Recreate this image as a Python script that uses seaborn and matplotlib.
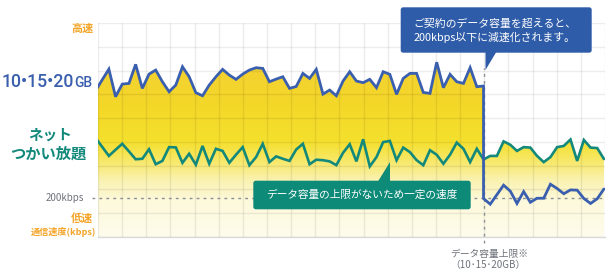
import numpy as np
import pandas as pd
import matplotlib
matplotlib.use("Agg")
import matplotlib.pyplot as plt
import matplotlib.transforms as mtransforms
from matplotlib.patches import FancyBboxPatch, Polygon
from matplotlib.colors import LinearSegmentedColormap
import seaborn as sns

# ---------------- data (speed index on a 0-90 scale, x = sample index) ----------------
blue_before = [61.5, 66.1, 70.6, 59.0, 64.3, 64.6, 72.6, 62.5, 68.5, 70.2,
               65.3, 61.1, 63.9, 71.6, 67.4, 60.7, 59.4, 63.9, 67.4, 70.5,
               68.1, 66.3, 68.5, 70.2, 71.2, 70.9, 65.3, 66.4, 67.4, 62.5,
               63.3, 68.8, 66.7, 70.5, 60.1, 61.8, 59.4, 65.6, 69.5, 65.6,
               64.9, 66.3, 62.8, 69.5, 68.4, 60.0, 66.7, 68.8, 68.8, 60.8,
               60.4, 73.5, 62.8, 68.4, 65.3, 64.6, 71.2, 63.2, 63.5]
blue_after = [16.2, 13.8, 17.8, 21.8, 19.3, 14.1, 19.1, 14.6, 16.3, 16.3,
              22.2, 20.4, 18.2, 19.8, 19.7, 16.2, 14.1, 16.1, 20.2]
green = [41.7, 37.9, 34.1, 36.7, 39.2, 36.0, 32.7, 32.9, 36.9, 30.6,
         32.0, 37.8, 37.7, 31.2, 35.0, 30.4, 38.3, 30.8, 37.1, 36.2,
         31.2, 34.6, 37.8, 30.2, 33.6, 39.2, 31.5, 33.9, 32.9, 32.0,
         36.8, 39.2, 30.6, 32.5, 32.3, 31.8, 30.2, 35.4, 39.0, 31.8,
         41.1, 29.7, 33.6, 39.9, 40.4, 32.3, 37.6, 35.7, 32.3, 30.2,
         36.5, 34.6, 30.8, 34.6, 39.7, 37.1, 31.5, 37.1, 32.6, 34.1,
         34.1, 40.2, 38.8, 36.2, 37.8, 37.6, 34.1, 31.5, 33.6, 37.8,
         38.3, 41.0, 32.0, 40.8, 37.6, 37.4, 32.8]
kbps200 = 16.5

label_high = "高速"
label_low = "低速"
label_unit = "通信速度(kbps)"
label_cap_num = "10•15•20"
label_cap_unit = "GB"
label_unl_1 = "ネット"
label_unl_2 = "つかい放題"
label_200 = "200kbps"
callout_1 = ["ご契約のデータ容量を超えると、", "200kbps以下に減速化されます。"]
callout_2 = "データ容量の上限がないため一定の速度"
bottom_1 = "データ容量上限※"
bottom_2 = "（10･15･20GB）"

# ---------------- style ----------------
BLUE = "#3a5fae"
GREEN = "#13897b"
BOX_BLUE = "#2f5ca9"
BOX_GREEN = "#0e8a78"
ORANGE = "#f4a52a"
GRAY = "#6e737a"
DASH = "#8a8f96"

sns.set_theme(style="white")
plt.rcParams['font.family'] = ['Noto Sans CJK JP', 'DejaVu Sans']

W, H = 610, 273
fig = plt.figure(figsize=(W / 100, H / 100), dpi=100)
ax = fig.add_axes([98 / W, 1 - 237 / H, (605 - 98) / W, (237 - 23) / H])
pix = mtransforms.Affine2D().scale(1, -1).translate(0, H)  # image-pixel coords

k_before = np.arange(len(blue_before))
cut = int(k_before[-1])
k_after = np.arange(cut, cut + len(blue_after))
k_green = np.arange(len(green))

blue_df = pd.DataFrame({"k": np.concatenate([k_before, k_after]),
                        "v": blue_before + blue_after})
green_df = pd.DataFrame({"k": k_green, "v": green})

x0 = (98 - 95.5) / 6.69
x1 = (605 - 95.5) / 6.69

# gradient fill below the upper envelope
env_x = np.concatenate([k_before, k_after])
env_y = np.array(blue_before + green[cut:])
poly = ax.fill_between(env_x, env_y, 0, facecolor="none", edgecolor="none", lw=0)
cmap = LinearSegmentedColormap.from_list("yel", [
    (0.0, "#fefcec"), (15 / 90, "#fdf9dc"), (24 / 90, "#faf2b0"),
    (30 / 90, "#f8ea78"), (40 / 90, "#f5e02e"), (55 / 90, "#f4d828"),
    (75 / 90, "#f3cf33"), (1.0, "#f2cb36")])
grad = np.linspace(0, 1, 256).reshape(-1, 1)
im = ax.imshow(grad, extent=[x0, x1, 0, 90], origin="lower", aspect="auto",
               cmap=cmap, zorder=1, interpolation="bilinear")
im.set_clip_path(poly.get_paths()[0], transform=ax.transData)

sns.lineplot(data=green_df, x="k", y="v", estimator=None, sort=False, color=GREEN,
             lw=1.9, ax=ax, zorder=5, solid_joinstyle="miter")
sns.lineplot(data=blue_df, x="k", y="v", estimator=None, sort=False, color=BLUE,
             lw=2.0, ax=ax, zorder=6, solid_joinstyle="miter")

ax.set_xlim(x0, x1)
ax.set_ylim(0, 90)
ax.set_xticks(np.linspace(x0, x1, 22))
ax.set_yticks(np.arange(0, 91, 10))
ax.tick_params(length=0, labelbottom=False, labelleft=False)
ax.set_xlabel("")
ax.set_ylabel("")
ax.grid(True, color="black", alpha=0.07, lw=1)
ax.set_axisbelow(False)
for s in ax.spines.values():
    s.set_visible(False)
ax.spines["bottom"].set_visible(True)
ax.spines["bottom"].set_color("#dadada")
ax.spines["bottom"].set_linewidth(1)

# reference lines
ax.axhline(kbps200, xmin=-6 / 507, xmax=1, color=DASH, lw=1.0, ls=(0, (2, 3)),
           zorder=4, clip_on=False)
ax.axvline(cut, ymin=(237 - 243) / 214, ymax=(237 - 68) / 214, color=DASH, lw=1.0,
           ls=(0, (2, 3)), zorder=4, clip_on=False)

# callouts
ax.add_patch(FancyBboxPatch((400.7, 7.3), 191, 45.4, boxstyle="round,pad=0,rounding_size=2.5",
                            transform=pix, facecolor=BOX_BLUE, edgecolor="none",
                            clip_on=False, zorder=10))
ax.add_patch(Polygon([(485.5, 50), (497.5, 50), (485.5, 70)], closed=True, transform=pix,
                     facecolor=BOX_BLUE, edgecolor="none", clip_on=False, zorder=10))
ax.text(495, 23.5, callout_1[0], transform=pix, ha="center", va="center",
        fontsize=7.8, color="white", zorder=11)
ax.text(495, 37.5, callout_1[1], transform=pix, ha="center", va="center",
        fontsize=7.8, color="white", zorder=11)

ax.add_patch(FancyBboxPatch((253.3, 180.7), 217.4, 28.6, boxstyle="round,pad=0,rounding_size=2.5",
                            transform=pix, facecolor=BOX_GREEN, edgecolor="none",
                            clip_on=False, zorder=10))
ax.add_patch(Polygon([(377, 183), (390, 183), (390, 162)], closed=True, transform=pix,
                     facecolor=BOX_GREEN, edgecolor="none", clip_on=False, zorder=10))
ax.text(362, 195, callout_2, transform=pix, ha="center", va="center",
        fontsize=7.7, color="white", zorder=11)

# left labels
ax.text(93.5, 28.5, label_high, transform=pix, ha="right", va="center", fontsize=8,
        weight="bold", color=ORANGE)
ax.text(73.5, 87.3, label_cap_num, transform=pix, ha="right", va="baseline",
        fontsize=12.8, family=["Roboto", "DejaVu Sans"], weight="medium", color=BLUE)
ax.text(74.5, 87.3, label_cap_unit, transform=pix, ha="left", va="baseline",
        fontsize=10, family=["Roboto", "DejaVu Sans"], weight="medium", color=BLUE)
ax.text(50.5, 135, label_unl_1, transform=pix, ha="center", va="center", fontsize=10.5,
        weight="bold", color=GREEN)
ax.text(48.5, 154, label_unl_2, transform=pix, ha="center", va="center", fontsize=11,
        weight="bold", color=GREEN)
ax.text(84.5, 197.7, label_200, transform=pix, ha="right", va="center", fontsize=7,
        color=GRAY)
ax.text(93.5, 218, label_low, transform=pix, ha="right", va="center", fontsize=8,
        weight="bold", color=ORANGE)
ax.text(96, 232, label_unit, transform=pix, ha="right", va="center", fontsize=6.6,
        weight="bold", color=ORANGE)

# bottom label
ax.text(489, 253.5, bottom_1, transform=pix, ha="center", va="center", fontsize=7,
        color=GRAY)
ax.text(487.5, 265.5, bottom_2, transform=pix, ha="center", va="center", fontsize=7,
        color=GRAY)

fig.savefig("out.png", dpi=100)
